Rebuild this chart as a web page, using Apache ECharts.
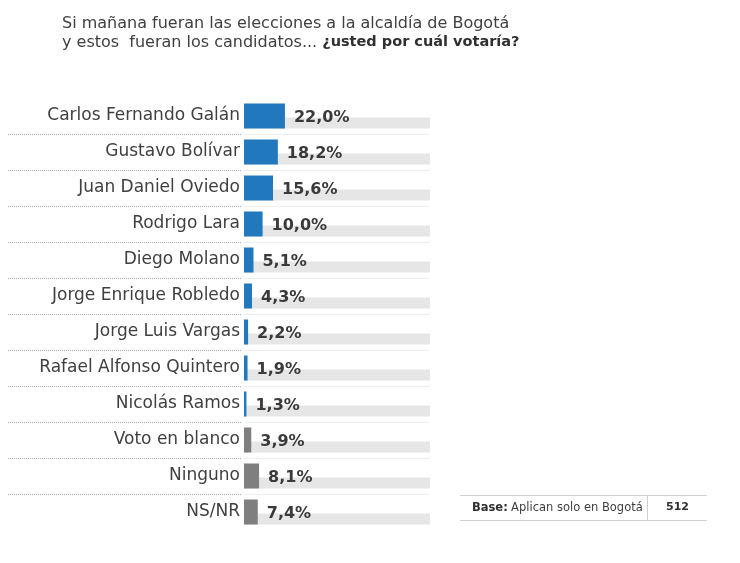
<!DOCTYPE html>
<html><head><meta charset="utf-8">
<script src="https://cdn.jsdelivr.net/npm/echarts@6/dist/echarts.min.js"></script>
<style>html,body{margin:0;padding:0;background:#fff}#c{width:740px;height:563px}</style>
</head><body><div id="c"></div>
<script>
const categories = ['Carlos Fernando Galán','Gustavo Bolívar','Juan Daniel Oviedo','Rodrigo Lara','Diego Molano','Jorge Enrique Robledo','Jorge Luis Vargas','Rafael Alfonso Quintero','Nicolás Ramos','Voto en blanco','Ninguno','NS/NR'];
const values = [22.0, 18.2, 15.6, 10.0, 5.1, 4.3, 2.2, 1.9, 1.3, 3.9, 8.1, 7.4];
const groups = ['cand','cand','cand','cand','cand','cand','cand','cand','cand','other','other','other'];
const scaleMax = 100;
const baseLabel = 'Aplican solo en Bogotá';
const baseN = '512';

const FONT = 'DejaVu Sans';
const chart = echarts.init(document.getElementById('c'), null, {renderer:'canvas'});
const groupColor = {cand:'#2178BD', other:'#7F7F7F'};

chart.setOption({
  animation:false,
  title:{
    left:62, top:14, padding:0,
    text:'{n|Si mañana fueran las elecciones a la alcaldía de Bogotá}\n{n|y estos  fueran los candidatos... }{b|¿usted por cuál votaría?}',
    textStyle:{fontWeight:'normal', rich:{
      n:{fontFamily:FONT,fontSize:16,fontWeight:'normal',color:'#404040',lineHeight:19},
      b:{fontFamily:FONT,fontSize:14.5,fontWeight:'bold',color:'#303030',lineHeight:19}
    }}
  },
  grid:[
    {left:8, width:234, top:98, height:432},
    {left:244, width:186, top:98, height:432}
  ],
  xAxis:[
    {gridIndex:0, type:'value', show:false, min:0, max:1},
    {gridIndex:1, type:'value', show:false, min:0, max:scaleMax}
  ],
  yAxis:[
    {gridIndex:0, type:'category', data:categories, inverse:true, position:'right',
     axisLine:{show:false}, axisTick:{show:false},
     axisLabel:{inside:true, margin:2, fontFamily:FONT, fontSize:17, color:'#404040'},
     splitLine:{show:true, showMinLine:false, showMaxLine:false, lineStyle:{type:'dotted', color:'#b0b0b0', width:1}}},
    {gridIndex:1, type:'category', data:categories, inverse:true,
     axisLine:{show:false}, axisTick:{show:false}, axisLabel:{show:false},
     splitLine:{show:true, showMinLine:false, showMaxLine:false, lineStyle:{color:'#eeeeee', width:1}}}
  ],
  series:[
    {type:'custom', xAxisIndex:1, yAxisIndex:1, z:1, silent:true,
     data:categories.map((c,i)=>[scaleMax,i]),
     renderItem:function(params, api){
       const idx = api.value(1);
       const p0 = api.coord([0, idx]);
       const p1 = api.coord([api.value(0), idx]);
       return {type:'rect', shape:{x:p0[0], y:p0[1]+1.5, width:p1[0]-p0[0], height:11}, style:{fill:'#E6E6E6'}};
     }},
    {type:'bar', xAxisIndex:1, yAxisIndex:1, z:3, barWidth:25,
     data:values.map((v,i)=>({value:v, itemStyle:{color:groupColor[groups[i]]}})),
     label:{show:true, position:'right', distance:9, offset:[0,2],
       formatter:p=>p.value.toFixed(1).replace('.',',')+'%',
       fontFamily:FONT, fontSize:16, fontWeight:'bold', color:'#3a3a3a'}}
  ],
  graphic:[
    {type:'line', shape:{x1:460,y1:495.5,x2:707,y2:495.5}, style:{stroke:'#d0d0d0',lineWidth:1}},
    {type:'line', shape:{x1:460,y1:520.5,x2:707,y2:520.5}, style:{stroke:'#d0d0d0',lineWidth:1}},
    {type:'line', shape:{x1:647.5,y1:495,x2:647.5,y2:521}, style:{stroke:'#d0d0d0',lineWidth:1}},
    {type:'text', left:472, top:502, style:{
      text:'{b|Base:} {n|'+baseLabel+'}',
      rich:{b:{fontFamily:FONT,fontSize:11.5,fontWeight:'bold',fill:'#303030'},n:{fontFamily:FONT,fontSize:11.5,fill:'#404040'}}}},
    {type:'text', left:666, top:502, style:{text:baseN, fontFamily:FONT, fontSize:11, fontWeight:'bold', fill:'#303030'}}
  ]
});
</script></body></html>
